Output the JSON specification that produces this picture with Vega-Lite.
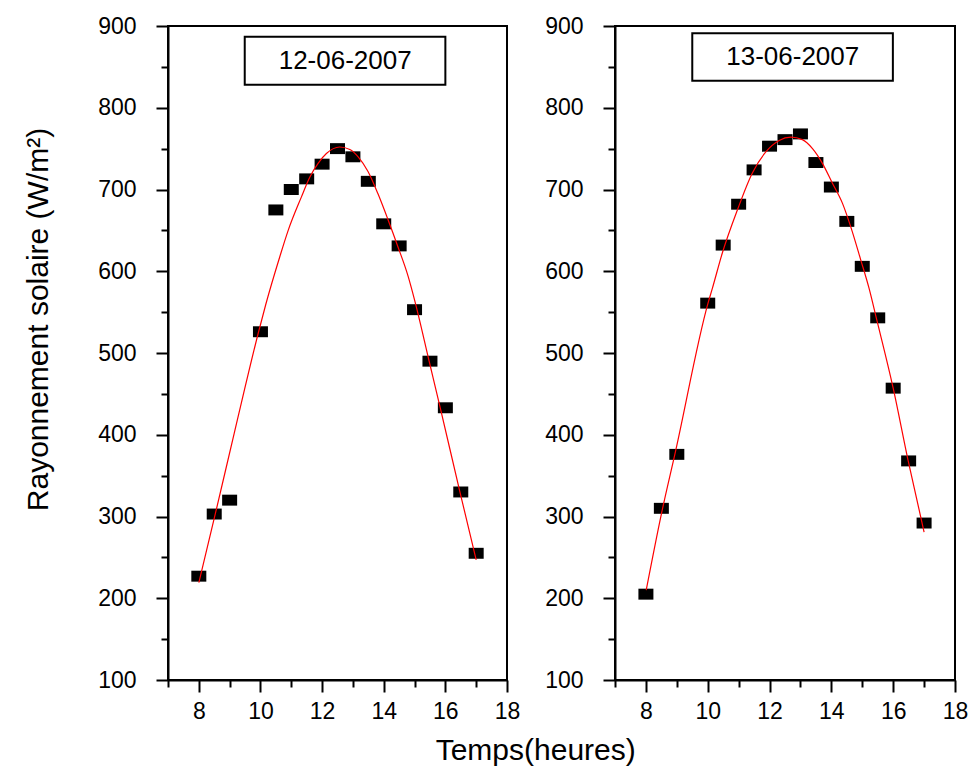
{
  "$schema": "https://vega.github.io/schema/vega-lite/v6.json",
  "background": "white",
  "padding": {"left": 22, "top": 14, "right": 3, "bottom": 4},
  "spacing": 22,
  "config": {
    "font": "Liberation Sans",
    "view": {"stroke": "black", "strokeWidth": 2},
    "axis": {
      "grid": false,
      "domainColor": "black",
      "domainWidth": 2,
      "tickColor": "black",
      "tickWidth": 2,
      "labelFont": "Liberation Sans",
      "labelFontSize": 23,
      "labelColor": "black",
      "titleFont": "Liberation Sans",
      "titleFontWeight": "normal",
      "titleColor": "black"
    },
    "axisX": {
      "title": null,
      "values": [7, 8, 9, 10, 11, 12, 13, 14, 15, 16, 17, 18],
      "labelExpr": "datum.value % 2 === 0 ? datum.label : ''",
      "tickSize": {"condition": {"test": "datum.value % 2 === 0", "value": 12}, "value": 7},
      "labelPadding": 8,
      "labelFlush": false
    },
    "axisY": {
      "values": [100, 150, 200, 250, 300, 350, 400, 450, 500, 550, 600, 650, 700, 750, 800, 850, 900],
      "labelExpr": "datum.value % 100 === 0 ? datum.label : ''",
      "tickSize": {"condition": {"test": "datum.value % 100 === 0", "value": 12}, "value": 7},
      "labelPadding": 20,
      "labelFlush": false
    }
  },
  "title": {
    "text": "Temps(heures)",
    "orient": "bottom",
    "anchor": "middle",
    "font": "Liberation Sans",
    "fontSize": 30,
    "fontWeight": "normal",
    "color": "black",
    "offset": 12,
    "dx": 40
  },
  "datasets": {
    "d1": [
      {"heure": 8, "rayonnement": 227},
      {"heure": 8.5, "rayonnement": 303},
      {"heure": 9, "rayonnement": 320},
      {"heure": 10, "rayonnement": 526},
      {"heure": 10.5, "rayonnement": 675},
      {"heure": 11, "rayonnement": 700},
      {"heure": 11.5, "rayonnement": 713},
      {"heure": 12, "rayonnement": 731},
      {"heure": 12.5, "rayonnement": 750},
      {"heure": 13, "rayonnement": 740},
      {"heure": 13.5, "rayonnement": 710},
      {"heure": 14, "rayonnement": 658},
      {"heure": 14.5, "rayonnement": 631},
      {"heure": 15, "rayonnement": 553},
      {"heure": 15.5, "rayonnement": 490},
      {"heure": 16, "rayonnement": 433},
      {"heure": 16.5, "rayonnement": 330},
      {"heure": 17, "rayonnement": 255}
    ],
    "fit1": [
      {"heure": 8.0, "rayonnement": 219},
      {"heure": 8.54, "rayonnement": 304},
      {"heure": 9.15, "rayonnement": 402},
      {"heure": 9.94, "rayonnement": 526},
      {"heure": 10.17, "rayonnement": 559},
      {"heure": 10.63, "rayonnement": 618},
      {"heure": 10.9, "rayonnement": 650},
      {"heure": 11.33, "rayonnement": 691},
      {"heure": 11.6, "rayonnement": 715},
      {"heure": 11.87, "rayonnement": 732},
      {"heure": 12.14, "rayonnement": 744},
      {"heure": 12.57, "rayonnement": 752},
      {"heure": 12.9, "rayonnement": 749},
      {"heure": 13.17, "rayonnement": 740},
      {"heure": 13.49, "rayonnement": 722},
      {"heure": 13.81, "rayonnement": 695},
      {"heure": 14.14, "rayonnement": 663},
      {"heure": 14.46, "rayonnement": 630},
      {"heure": 14.79, "rayonnement": 594},
      {"heure": 15.0, "rayonnement": 565},
      {"heure": 15.48, "rayonnement": 489},
      {"heure": 15.84, "rayonnement": 432},
      {"heure": 16.46, "rayonnement": 332},
      {"heure": 17.0, "rayonnement": 247}
    ],
    "d2": [
      {"heure": 8, "rayonnement": 205},
      {"heure": 8.5, "rayonnement": 310},
      {"heure": 9, "rayonnement": 376},
      {"heure": 10, "rayonnement": 561},
      {"heure": 10.5, "rayonnement": 632},
      {"heure": 11, "rayonnement": 682},
      {"heure": 11.5, "rayonnement": 724},
      {"heure": 12, "rayonnement": 753},
      {"heure": 12.5, "rayonnement": 761},
      {"heure": 13, "rayonnement": 768},
      {"heure": 13.5, "rayonnement": 733},
      {"heure": 14, "rayonnement": 703},
      {"heure": 14.5, "rayonnement": 661},
      {"heure": 15, "rayonnement": 606},
      {"heure": 15.5, "rayonnement": 543},
      {"heure": 16, "rayonnement": 457},
      {"heure": 16.5, "rayonnement": 368},
      {"heure": 17, "rayonnement": 292}
    ],
    "fit2": [
      {"heure": 8.01, "rayonnement": 210},
      {"heure": 8.5, "rayonnement": 303},
      {"heure": 8.96, "rayonnement": 380},
      {"heure": 10.01, "rayonnement": 561},
      {"heure": 10.15, "rayonnement": 579},
      {"heure": 10.47, "rayonnement": 622},
      {"heure": 10.96, "rayonnement": 675},
      {"heure": 11.44, "rayonnement": 720},
      {"heure": 11.88, "rayonnement": 746},
      {"heure": 12.31, "rayonnement": 760},
      {"heure": 12.69, "rayonnement": 764},
      {"heure": 13.06, "rayonnement": 761},
      {"heure": 13.39, "rayonnement": 750},
      {"heure": 13.71, "rayonnement": 732},
      {"heure": 14.03, "rayonnement": 708},
      {"heure": 14.36, "rayonnement": 683},
      {"heure": 14.63, "rayonnement": 654},
      {"heure": 14.95, "rayonnement": 614},
      {"heure": 15.22, "rayonnement": 579},
      {"heure": 15.46, "rayonnement": 542},
      {"heure": 16.0, "rayonnement": 457},
      {"heure": 16.48, "rayonnement": 369},
      {"heure": 17.0, "rayonnement": 281}
    ],
    "lab1": [{"date": "12-06-2007"}],
    "lab2": [{"date": "13-06-2007"}]
  },
  "hconcat": [
    {
      "width": 339,
      "height": 654,
      "layer": [
        {
          "data": {"name": "d1"},
          "mark": {"type": "point", "shape": "M-1,-0.73H1V0.73H-1Z", "size": 225, "filled": true, "color": "black", "opacity": 1},
          "encoding": {
            "x": {"field": "heure", "type": "quantitative", "scale": {"domain": [7, 18], "nice": false, "zero": false}, "axis": {"title": null}},
            "y": {
              "field": "rayonnement", "type": "quantitative",
              "scale": {"domain": [100, 900], "nice": false, "zero": false},
              "axis": {
                "title": "Rayonnement solaire (W/m²)",
                "titleFontSize": 30,
                "titlePadding": 44,
                "titleY": 293
              }
            }
          }
        },
        {
          "data": {"name": "fit1"},
          "mark": {"type": "line", "color": "red", "strokeWidth": 1.2, "interpolate": "monotone"},
          "encoding": {
            "x": {"field": "heure", "type": "quantitative", "axis": {"title": null}},
            "y": {"field": "rayonnement", "type": "quantitative", "axis": {"title": "Rayonnement solaire (W/m²)"}}
          }
        },
        {
          "data": {"name": "lab1"},
          "mark": {"type": "rect", "fill": "white", "stroke": "black", "strokeWidth": 2},
          "encoding": {
            "x": {"datum": 9.49, "type": "quantitative", "axis": {"title": null}},
            "x2": {"datum": 16.0},
            "y": {"datum": 887, "type": "quantitative", "axis": {"title": "Rayonnement solaire (W/m²)"}},
            "y2": {"datum": 828}
          }
        },
        {
          "data": {"name": "lab1"},
          "mark": {"type": "text", "fontSize": 26, "color": "black", "align": "center", "baseline": "middle"},
          "encoding": {
            "x": {"datum": 12.75, "type": "quantitative", "axis": {"title": null}},
            "y": {"datum": 857.5, "type": "quantitative", "axis": {"title": "Rayonnement solaire (W/m²)"}},
            "text": {"field": "date"}
          }
        }
      ]
    },
    {
      "width": 340,
      "height": 654,
      "layer": [
        {
          "data": {"name": "d2"},
          "mark": {"type": "point", "shape": "M-1,-0.73H1V0.73H-1Z", "size": 225, "filled": true, "color": "black", "opacity": 1},
          "encoding": {
            "x": {"field": "heure", "type": "quantitative", "scale": {"domain": [7, 18], "nice": false, "zero": false}, "axis": {"title": null}},
            "y": {"field": "rayonnement", "type": "quantitative", "scale": {"domain": [100, 900], "nice": false, "zero": false}, "axis": {"title": null}}
          }
        },
        {
          "data": {"name": "fit2"},
          "mark": {"type": "line", "color": "red", "strokeWidth": 1.2, "interpolate": "monotone"},
          "encoding": {
            "x": {"field": "heure", "type": "quantitative", "axis": {"title": null}},
            "y": {"field": "rayonnement", "type": "quantitative", "axis": {"title": null}}
          }
        },
        {
          "data": {"name": "lab2"},
          "mark": {"type": "rect", "fill": "white", "stroke": "black", "strokeWidth": 2},
          "encoding": {
            "x": {"datum": 9.5, "type": "quantitative", "axis": {"title": null}},
            "x2": {"datum": 15.99},
            "y": {"datum": 891, "type": "quantitative", "axis": {"title": null}},
            "y2": {"datum": 833}
          }
        },
        {
          "data": {"name": "lab2"},
          "mark": {"type": "text", "fontSize": 26, "color": "black", "align": "center", "baseline": "middle"},
          "encoding": {
            "x": {"datum": 12.75, "type": "quantitative", "axis": {"title": null}},
            "y": {"datum": 862, "type": "quantitative", "axis": {"title": null}},
            "text": {"field": "date"}
          }
        }
      ]
    }
  ]
}
